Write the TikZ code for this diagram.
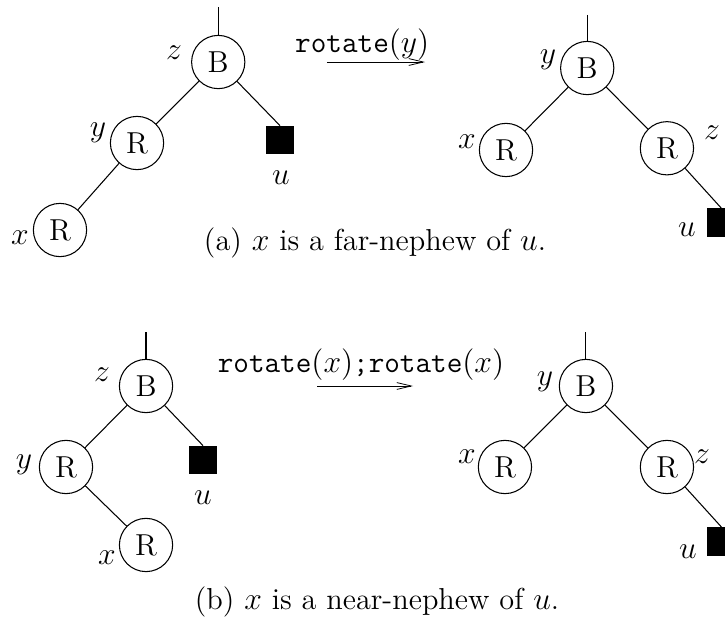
\documentclass[tikz,border=0pt]{standalone}
\usetikzlibrary{positioning, arrows.meta}

\begin{document}
\begin{tikzpicture}[font=\fontsize{11.5}{14}\selectfont,
    rb/.style={draw, circle, minimum size=0.71cm, inner sep=0pt},
    leaf/.style={draw, fill=black, minimum size=0.37cm, inner sep=0pt},
    lbl/.style={inner sep=0pt},
    rotarrow/.style={-{Straight Barb[length=5.5pt,width=2.6pt]}, line width=0.3pt}
  ]
    \useasboundingbox (0,0) rectangle (9.667,8.267);

    % (a) far-nephew, before
    \coordinate (ta) at (2.91,8.173);
    \node[rb] (za) at (2.91,7.44) {B};
    \node[rb] (ya) at (1.827,6.36) {R};
    \node[rb] (xa) at (0.80,5.20) {R};
    \node[leaf] (ua) at (3.733,6.40) {};
    \draw (ta) -- (za);
    \draw (za) -- (ya);
    \draw (ya) -- (xa);
    \draw (za) -- (ua.north);
    \node[lbl] at (2.32,7.56) {$z$};
    \node[lbl] at (1.307,6.50) {$y$};
    \node[lbl] at (0.267,5.10) {$x$};
    \node[lbl] at (3.747,5.90) {$u$};

    % (a) rotation arrow
    \node[lbl] (rota) at (4.83,7.67) {\texttt{rotate}$(y)$};
    \coordinate (a1) at (4.36,7.44);
    \coordinate (a2) at (5.667,7.44);
    \draw[rotarrow] (a1) -- (a2);

    % (a) after
    \coordinate (tb) at (7.83,8.067);
    \node[rb] (yb) at (7.83,7.36) {B};
    \node[rb] (xb) at (6.747,6.267) {R};
    \node[rb] (zb) at (8.893,6.29) {R};
    \node[leaf] (ub) at (9.617,5.30) {};
    \draw (tb) -- (yb);
    \draw (yb) -- (xb);
    \draw (yb) -- (zb);
    \draw (zb) -- (ub.north);
    \node[lbl] at (7.307,7.47) {$y$};
    \node[lbl] at (6.227,6.373) {$x$};
    \node[lbl] at (9.493,6.493) {$z$};
    \node[lbl] at (9.16,5.20) {$u$};

    \node (capa) at (5.0,5.027) {(a) $x$ is a far-nephew of $u$.};

    % (b) near-nephew, before
    \coordinate (tc) at (1.947,3.84);
    \node[rb] (zc) at (1.947,3.12) {B};
    \node[rb] (yc) at (0.88,2.04) {R};
    \node[rb] (xc) at (1.947,1.00) {R};
    \node[leaf] (uc) at (2.707,2.133) {};
    \draw (tc) -- (zc);
    \draw (zc) -- (yc);
    \draw (yc) -- (xc);
    \draw (zc) -- (uc.north);
    \node[lbl] at (1.36,3.267) {$z$};
    \node[lbl] at (0.32,2.067) {$y$};
    \node[lbl] at (1.427,0.827) {$x$};
    \node[lbl] at (2.707,1.627) {$u$};

    % (b) double rotation arrow
    \node[lbl] (rotb) at (4.813,3.40) {\texttt{rotate}$(x)$\texttt{;}\texttt{rotate}$(x)$};
    \coordinate (b1) at (4.227,3.12);
    \coordinate (b2) at (5.507,3.12);
    \draw[rotarrow] (b1) -- (b2);

    % (b) after
    \coordinate (td) at (7.813,3.84);
    \node[rb] (yd) at (7.813,3.12) {B};
    \node[rb] (xd) at (6.733,2.04) {R};
    \node[rb] (zd) at (8.893,2.04) {R};
    \node[leaf] (ud) at (9.62,1.047) {};
    \draw (td) -- (yd);
    \draw (yd) -- (xd);
    \draw (yd) -- (zd);
    \draw (zd) -- (ud.north);
    \node[lbl] at (7.267,3.173) {$y$};
    \node[lbl] at (6.227,2.173) {$x$};
    \node[lbl] at (9.36,2.173) {$z$};
    \node[lbl] at (9.173,0.907) {$u$};

    \node (capb) at (5.027,0.24) {(b) $x$ is a near-nephew of $u$.};
\end{tikzpicture}
\end{document}
